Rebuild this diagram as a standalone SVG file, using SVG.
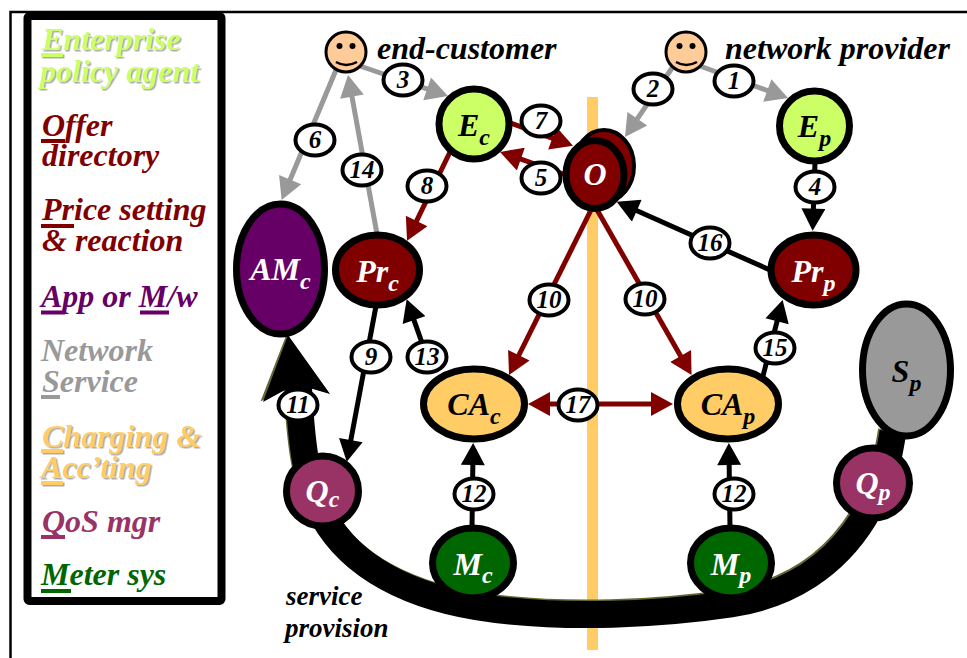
<svg xmlns="http://www.w3.org/2000/svg" width="967" height="658" viewBox="0 0 967 658">
<style>
text{font-family:"Liberation Serif","Times New Roman",serif;font-weight:bold;font-style:italic}
.lg{font-size:32px}
.n{font-size:32px;text-anchor:middle}
.s{font-size:24px}
.w{fill:#fff}
.k{fill:#000}
.nd{stroke:#000;stroke-width:7}
.lb ellipse{fill:#fff;stroke:#000;stroke-width:4}
.lb text{font-size:25px;text-anchor:middle;fill:#000}
.g{fill:none;stroke:#999;stroke-width:5;marker-end:url(#ag)}
.r{fill:none;stroke:#800000;stroke-width:5;marker-end:url(#ar)}
.b{fill:none;stroke:#000;stroke-width:5;marker-end:url(#ab)}
.cap{font-size:32px}
.cap2{font-size:27px}
</style>
<defs>
<marker id="ag" markerUnits="userSpaceOnUse" markerWidth="24" markerHeight="24" viewBox="0 0 22 24" refX="12" refY="12" orient="auto"><path d="M0 0L22 12L0 24Z" fill="#999"/></marker>
<marker id="ar" markerUnits="userSpaceOnUse" markerWidth="24" markerHeight="24" viewBox="0 0 22 24" refX="12" refY="12" orient="auto-start-reverse"><path d="M0 0L22 12L0 24Z" fill="#800000"/></marker>
<marker id="ab" markerUnits="userSpaceOnUse" markerWidth="24" markerHeight="24" viewBox="0 0 22 24" refX="12" refY="12" orient="auto"><path d="M0 0L22 12L0 24Z" fill="#000"/></marker>
<filter id="sh" x="-5%" y="-10%" width="110%" height="125%"><feDropShadow dx="1.500" dy="1.500" stdDeviation="0.400" flood-color="#aaa"/></filter>
</defs>
<rect width="967" height="658" fill="#fff"/>
<path d="M10.500 658V12H967" fill="none" stroke="#000" stroke-width="2.500"/>
<rect x="587" y="97" width="11" height="553" fill="#ffcc66"/>

<g id="legend">
<rect x="27.500" y="16" width="194" height="585" rx="2" fill="#fff" stroke="#000" stroke-width="8"/>
<g filter="url(#sh)" fill="#ccff66"><text class="lg" x="42" y="50">Enterprise</text><text class="lg" x="40" y="82">policy agent</text><rect x="41" y="53" width="22" height="4"/></g>
<g fill="#800000"><text class="lg" x="42" y="136">Offer</text><text class="lg" x="42" y="166">directory</text><rect x="41" y="139" width="24" height="4"/>
<text class="lg" x="42" y="220">Price setting</text><text class="lg" x="42" y="251">&amp; reaction</text><rect x="41" y="224" width="33" height="4"/></g>
<g fill="#660066"><text class="lg" x="41" y="307">App or M/w</text><rect x="41" y="310.500" width="24" height="4"/><rect x="140" y="310.500" width="29" height="4"/></g>
<g fill="#999"><text class="lg" x="41" y="361">Network</text><text class="lg" x="42" y="392">Service</text><rect x="41" y="395" width="19" height="4"/></g>
<g filter="url(#sh)" fill="#ffcc66"><text class="lg" x="42" y="447">Charging &amp;</text><text class="lg" x="41" y="478">Acc’ting</text><rect x="41" y="449" width="22" height="4"/><rect x="41" y="481" width="22" height="4"/></g>
<g fill="#993366"><text class="lg" x="42" y="532">QoS mgr</text><rect x="41" y="535" width="24" height="4"/></g>
<g fill="#006600"><text class="lg" x="41" y="585">Meter sys</text><rect x="41" y="589" width="30" height="4"/></g>
</g>

<g id="connectors">
<path d="M298 378C301 440 305 490 330 527C360 572 420 603 510 611C570 617 650 616 731 604C790 595 835 565 864 518C878 495 888 465 893 432" fill="none" stroke="#666633" stroke-width="27" transform="translate(-1.500 -1.500)"/>
<path d="M298 378C301 440 305 490 330 527C360 572 420 603 510 611C570 617 650 616 731 604C790 595 835 565 864 518C878 495 888 465 893 432" fill="none" stroke="#000" stroke-width="27"/>
<path d="M261 402L287 335L330 394L296 384Z" fill="#666633" transform="translate(-0.500 -0.500)"/>
<path d="M263 402L288 335L330 394L296 384Z" fill="#000"/>

<path class="g" d="M360 66L438.500 92.800"/>
<path class="g" d="M336 70L285.500 190.800"/>
<path class="g" d="M377 234L349.800 84.800"/>
<path class="g" d="M672 68L630.600 128.700"/>
<path class="g" d="M700 66L778.600 94.600"/>
<path class="r" d="M508 122L563.600 142.400"/>
<path class="r" d="M566 175L509.500 155.200"/>
<path class="r" d="M450 152L411.400 231.700"/>
<path class="b" d="M815 162L813 220.700"/>
<path class="b" d="M770 270L625.800 205.800"/>
<path class="r" d="M592 208L513.500 366"/>
<path class="r" d="M596 208L686.600 366.400"/>
<path class="r" d="M538 404H663" style="marker-start:url(#ar)"/>
<path class="b" d="M763 376L780.100 309.700"/>
<path class="b" d="M730 528L729 453"/>
<path class="b" d="M472 528L473 453"/>
<path class="b" d="M427 357L410 308.800"/>
<path class="b" d="M376 306L348.600 451.900"/>

<g class="lb">
<g><ellipse cx="403" cy="80" rx="19.500" ry="15.500"/><text x="403" y="88">3</text></g>
<g><ellipse cx="734" cy="81" rx="19.500" ry="15.500"/><text x="734" y="89">1</text></g>
<g><ellipse cx="653" cy="89" rx="19.500" ry="15.500"/><text x="653" y="97">2</text></g>
<g><ellipse cx="541" cy="121" rx="19.500" ry="15.500"/><text x="541" y="129">7</text></g>
<g><ellipse cx="541" cy="178" rx="19.500" ry="15.500"/><text x="541" y="186">5</text></g>
<g><ellipse cx="315" cy="140" rx="19.500" ry="15.500"/><text x="315" y="148">6</text></g>
<g><ellipse cx="362" cy="170" rx="19.500" ry="15.500"/><text x="362" y="178">14</text></g>
<g><ellipse cx="427" cy="186" rx="19.500" ry="15.500"/><text x="427" y="194">8</text></g>
<g><ellipse cx="815" cy="187" rx="19.500" ry="15.500"/><text x="815" y="195">4</text></g>
<g><ellipse cx="710" cy="243" rx="19.500" ry="15.500"/><text x="710" y="251">16</text></g>
<g><ellipse cx="549" cy="300" rx="19.500" ry="15.500"/><text x="549" y="308">10</text></g>
<g><ellipse cx="645" cy="299" rx="19.500" ry="15.500"/><text x="645" y="307">10</text></g>
<g><ellipse cx="775" cy="348" rx="19.500" ry="15.500"/><text x="775" y="356">15</text></g>
<g><ellipse cx="734" cy="494" rx="19.500" ry="15.500"/><text x="734" y="502">12</text></g>
<g><ellipse cx="474" cy="494" rx="19.500" ry="15.500"/><text x="474" y="502">12</text></g>
<g><ellipse cx="578" cy="405" rx="19.500" ry="15.500"/><text x="578" y="413">17</text></g>
<g><ellipse cx="427" cy="357" rx="19.500" ry="15.500"/><text x="427" y="365">13</text></g>
<g><ellipse cx="371" cy="357" rx="19.500" ry="15.500"/><text x="371" y="365">9</text></g>
<g><ellipse cx="298" cy="405" rx="19.500" ry="15.500"/><text x="298" y="413">11</text></g>
</g>
</g>

<g id="face-customer"><circle cx="346" cy="52" r="20" fill="#ffcc99" stroke="#000" stroke-width="3"/><circle cx="339.500" cy="46" r="3"/><circle cx="352.500" cy="46" r="3"/><path d="M336 62Q346 68 357 62" fill="none" stroke="#000" stroke-width="2.500"/></g>
<g id="face-provider"><circle cx="686" cy="52" r="20" fill="#ffcc99" stroke="#000" stroke-width="3"/><circle cx="679.500" cy="46" r="3"/><circle cx="692.500" cy="46" r="3"/><path d="M676 62Q686 68 697 62" fill="none" stroke="#000" stroke-width="2.500"/></g>
<text id="cap-customer" class="cap" x="377" y="59">end-customer</text>
<text id="cap-provider" class="cap" x="725" y="59">network provider</text>
<text id="cap-service" class="cap2" x="286" y="605">service</text>
<text id="cap-provision" class="cap2" x="285" y="637">provision</text>

<g id="Ec"><circle class="nd" cx="474" cy="124" r="35" fill="#ccff66"/><text class="n k" x="474" y="136">E<tspan class="s" dy="9">c</tspan></text></g>
<g id="Ep"><circle class="nd" cx="814.500" cy="126" r="35" fill="#ccff66"/><text class="n k" x="814.500" y="137">E<tspan class="s" dy="9">p</tspan></text></g>
<g id="O"><ellipse cx="604" cy="166" rx="30" ry="36" fill="#800000" stroke="#000" stroke-width="4"/><ellipse class="nd" cx="595" cy="174.500" rx="29" ry="34" fill="#800000"/><text class="n w" x="595" y="185">O</text></g>
<g id="Prc"><ellipse class="nd" cx="377.500" cy="270" rx="42" ry="35" fill="#800000"/><text class="n w" x="377.500" y="282">Pr<tspan class="s" dy="9">c</tspan></text></g>
<g id="Prp"><ellipse class="nd" cx="813.500" cy="270" rx="42.500" ry="35" fill="#800000"/><text class="n w" x="813.500" y="282">Pr<tspan class="s" dy="9">p</tspan></text></g>
<g id="AMc"><ellipse class="nd" cx="280.500" cy="269" rx="44" ry="65" fill="#660066"/><text class="n w" x="280.500" y="280">AM<tspan class="s" dy="9">c</tspan></text></g>
<g id="CAc"><ellipse class="nd" cx="474" cy="404" rx="50.500" ry="35" fill="#ffcc66"/><text class="n k" x="474" y="415">CA<tspan class="s" dy="9">c</tspan></text></g>
<g id="CAp"><ellipse class="nd" cx="728" cy="404" rx="50.500" ry="35" fill="#ffcc66"/><text class="n k" x="728" y="415">CA<tspan class="s" dy="9">p</tspan></text></g>
<g id="Sp"><ellipse class="nd" cx="906.500" cy="370" rx="44" ry="66" fill="#999"/><text class="n k" x="906.500" y="382">S<tspan class="s" dy="9">p</tspan></text></g>
<g id="Qc"><ellipse class="nd" cx="322.500" cy="491" rx="36" ry="35" fill="#993366"/><text class="n w" x="322.500" y="502">Q<tspan class="s" dy="5">c</tspan></text></g>
<g id="Qp"><ellipse class="nd" cx="873" cy="483" rx="36.500" ry="35" fill="#993366"/><text class="n w" x="873" y="494">Q<tspan class="s" dy="6">p</tspan></text></g>
<g id="Mc"><ellipse class="nd" cx="473" cy="563" rx="40.500" ry="35" fill="#006600"/><text class="n w" x="473" y="575">M<tspan class="s" dy="8">c</tspan></text></g>
<g id="Mp"><ellipse class="nd" cx="731" cy="563" rx="40.500" ry="35" fill="#006600"/><text class="n w" x="731" y="575">M<tspan class="s" dy="8">p</tspan></text></g>
</svg>
